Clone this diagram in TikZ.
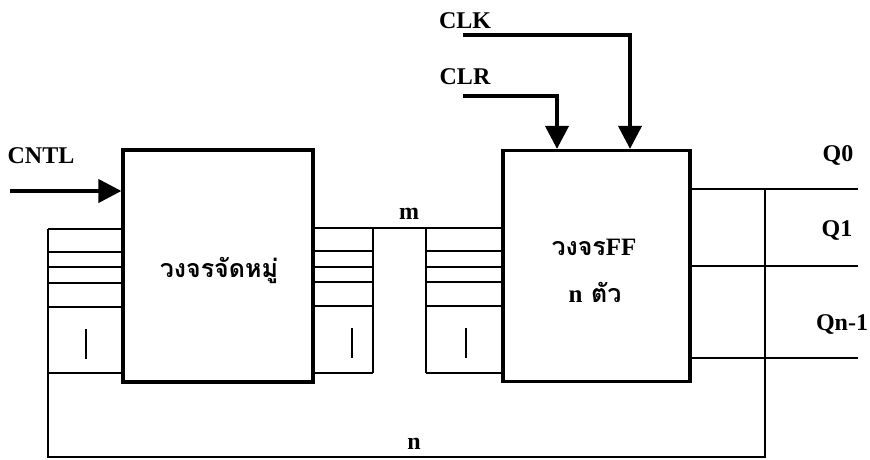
\documentclass[tikz,border=0pt]{standalone}
\usepackage{fontspec}
\setmainfont{Liberation Serif}
\newfontfamily\thaifont[Script=Thai]{Loma}
\usetikzlibrary{arrows.meta}
\begin{document}
\begin{tikzpicture}[x=1pt,y=-1pt,
  blk/.style={draw, line width=3.2pt, inner sep=0pt},
  bus/.style={line width=2.5pt},
  wire/.style={line width=1.9pt},
  sig/.style={line width=4pt, -{Triangle[length=23pt,width=23pt]}},
  lbl/.style={font=\fontsize{24}{26}\selectfont\bfseries, inner sep=0pt},
  thai/.style={font=\fontsize{25}{28}\selectfont\thaifont\bfseries, inner sep=0pt}]
\useasboundingbox (0,0) rectangle (870,459);

% blocks
\node[blk, minimum width=190pt, minimum height=232pt] (mux) at (218,266) {};
\node[blk, minimum width=187pt, minimum height=231pt] (ff) at (596.5,266) {};
\node[thai] (muxt) at (219,270) {วงจรจัดหมู่};
\node[thai] (fft) at (594,247) {วงจร{\rmfamily FF}};
\node[thai] (fft2) at (595,292) {{\rmfamily n} ตัว};

% labels
\node[lbl] (cntl) at (41,156) {CNTL};
\node[lbl] (clk) at (465,21) {CLK};
\node[lbl] (clr) at (465,77) {CLR};
\node[lbl] (m) at (409,214) {m};
\node[lbl] (n) at (414,444) {n};
\node[lbl] (q0) at (838,155) {Q0};
\node[lbl] (q1) at (837,230) {Q1};
\node[lbl] (qn) at (842,324) {Qn-1};

% control signals
\coordinate (cntlS) at (10,191);
\coordinate (clrS) at (463,96);
\coordinate (clrIn) at (557,0);
\coordinate (clkS) at (463,35);
\coordinate (clkIn) at (630,0);
\draw[sig] (cntlS) -- (mux.west |- cntlS);
\draw[sig] (clrS) -| (ff.north -| clrIn);
\draw[sig] (clkS) -| (ff.north -| clkIn);

% left input stack
\foreach \y in {229,252,267,283,307,373}
  \draw[bus] (48,\y) -- (mux.west |- 0,\y);
% bus m between blocks
\draw[bus] (mux.east |- 0,228) -- (ff.west |- 0,228);
\foreach \y in {251,267,282,306,373} {
  \draw[bus] (mux.east |- 0,\y) -- (373,\y);
  \draw[bus] (426,\y) -- (ff.west |- 0,\y);
}
\draw[wire] (373,228) -- (373,373);
\draw[wire] (426,228) -- (426,373);
% bit markers
\draw[wire] (86,329) -- (86,359);
\draw[wire] (352,328) -- (352,358);
\draw[wire] (466,328) -- (466,358);

% outputs
\foreach \y in {189,266,358}
  \draw[bus] (ff.east |- 0,\y) -- (858,\y);
% feedback n
\draw[wire] (48,229) -- (48,457) -- (765,457) -- (765,189);
\end{tikzpicture}
\end{document}
